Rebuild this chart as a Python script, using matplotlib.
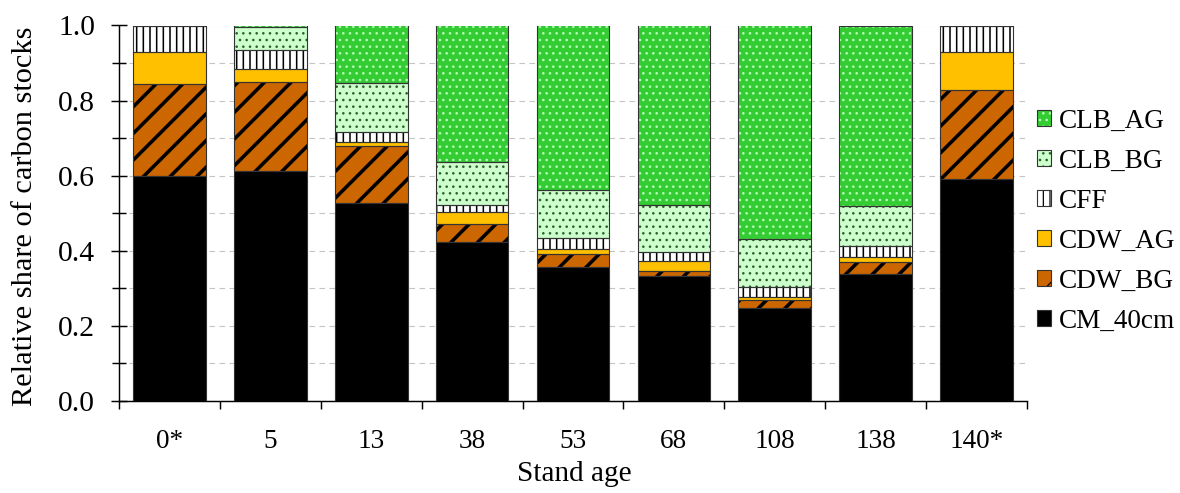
import numpy as np
import matplotlib
matplotlib.use('Agg')
import matplotlib.pyplot as plt
from matplotlib.patches import Patch
from matplotlib.ticker import MultipleLocator, FixedLocator

categories = ['0*', '5', '13', '38', '53', '68', '108', '138', '140*']
cm_40cm = [0.599, 0.612, 0.528, 0.424, 0.356, 0.333, 0.249, 0.338, 0.590]
cdw_bg  = [0.244, 0.238, 0.151, 0.047, 0.035, 0.014, 0.020, 0.032, 0.238]
cdw_ag  = [0.086, 0.035, 0.011, 0.031, 0.015, 0.027, 0.009, 0.014, 0.102]
cff     = [0.071, 0.050, 0.026, 0.020, 0.027, 0.022, 0.025, 0.030, 0.070]
clb_bg  = [0.000, 0.060, 0.132, 0.115, 0.128, 0.125, 0.128, 0.105, 0.000]
clb_ag  = [0.000, 0.005, 0.152, 0.363, 0.439, 0.479, 0.569, 0.481, 0.000]

series = [
    ('CM_40cm', cm_40cm, '#000000', '', '#000000', 1.0),
    ('CDW_BG', cdw_bg, '#CC6600', '/', '#000000', 3.2),
    ('CDW_AG', cdw_ag, '#FFC000', '', '#000000', 1.0),
    ('CFF', cff, '#FFFFFF', '||', '#000000', 1.4),
    ('CLB_BG', clb_bg, '#CCFFCC', '..', '#2E5E2E', 1.1),
    ('CLB_AG', clb_ag, '#33CC33', '..', '#B8FFB8', 1.1),
]

DPI = 80
plt.rcParams['font.family'] = ['Liberation Serif', 'DejaVu Serif']
plt.rcParams['font.size'] = 24.5

fig = plt.figure(figsize=(1180 / DPI, 493 / DPI), dpi=DPI)
ax = fig.add_axes([119 / 1180, 1 - 401 / 493, (1027 - 119) / 1180, (401 - 25.5) / 493])

x = np.arange(len(categories))
width = 0.72
bottom = np.zeros(len(categories))
edge = '#333333'
handles = []
for name, vals, fc, hatch, hc, hlw in series:
    vals = np.array(vals)
    plt.rcParams['hatch.linewidth'] = hlw
    fill = ax.bar(x, vals, width, bottom=bottom, color=fc, hatch=hatch,
                  edgecolor=hc, linewidth=0, zorder=2)
    for p in fill:
        try:
            p.set_hatch_linewidth(hlw)
        except Exception:
            pass
    ax.bar(x, vals, width, bottom=bottom, fill=False, edgecolor=edge,
           linewidth=1.0, zorder=3)
    hp = Patch(facecolor=fc, hatch=hatch, edgecolor=hc, linewidth=0)
    try:
        hp.set_hatch_linewidth(hlw)
    except Exception:
        pass
    ho = Patch(fill=False, edgecolor=edge, linewidth=1.0)
    handles.append(((hp, ho), name))
    bottom += vals

ax.set_xlim(-0.5, len(categories) - 0.5)
ax.set_ylim(0, 1.0)

ax.spines['top'].set_visible(False)
ax.spines['right'].set_visible(False)
ax.spines['left'].set_linewidth(1.3)
ax.spines['bottom'].set_linewidth(1.3)

ax.yaxis.set_major_locator(MultipleLocator(0.2))
ax.yaxis.set_minor_locator(MultipleLocator(0.1))
ax.yaxis.set_major_formatter(plt.FuncFormatter(lambda v, p: f'{v:.1f}'))
ax.tick_params(axis='y', which='major', direction='inout', length=14, width=1.3,
               pad=14.5, labelsize=26.5)
ax.tick_params(axis='y', which='minor', direction='inout', length=12, width=1.3)

ax.set_xticks(x)
ax.set_xticklabels(categories)
ax.xaxis.set_minor_locator(FixedLocator(np.arange(-0.5, len(categories), 1.0)))
ax.tick_params(axis='x', which='major', length=0, pad=25, labelsize=24.5)
ax.tick_params(axis='x', which='minor', direction='out', length=7, width=1.3)

ax.yaxis.grid(True, which='both', color='#C4C4C4', linestyle=(0, (5, 4)), linewidth=1.0)
ax.set_axisbelow(True)

fig.text(25 / 1180, 1 - 216.5 / 493, 'Relative share of carbon stocks',
         rotation=90, ha='center', va='center', fontsize=27.3)
fig.text(574 / 1180, 1 - 481 / 493, 'Stand age', ha='center', va='baseline',
         fontsize=26.3)

hs = [h for h, n in handles][::-1]
ns = [n for h, n in handles][::-1]
fig.legend(hs, ns, loc='center left', bbox_to_anchor=(1037 / 1180, 1 - 221 / 493),
           frameon=False, handlelength=0.5, handleheight=0.5, handletextpad=0.3,
           labelspacing=0.55, borderpad=0, borderaxespad=0, fontsize=24.5)

fig.savefig('out.png', dpi=DPI)
